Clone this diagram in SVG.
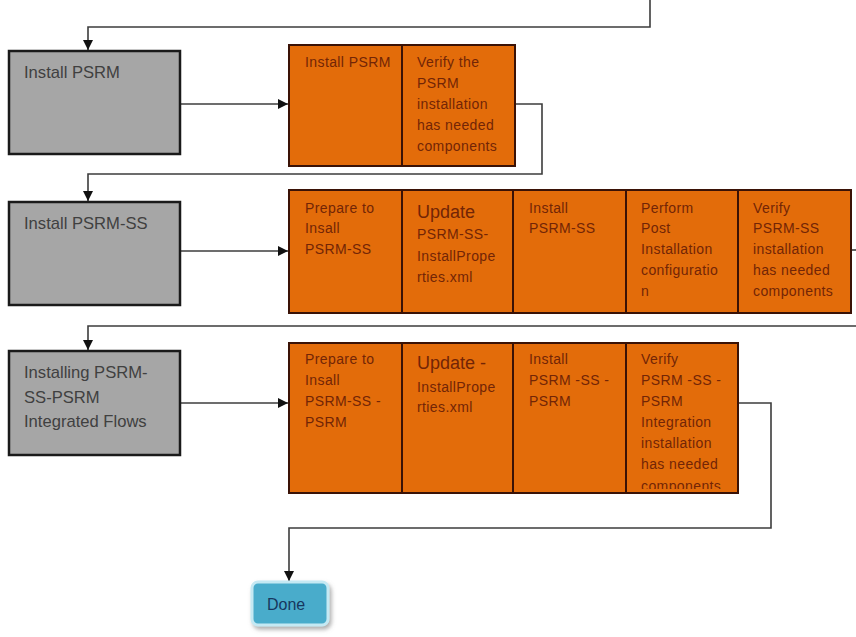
<svg xmlns="http://www.w3.org/2000/svg" width="856" height="637" viewBox="0 0 856 637">
<style>
.gray{fill:#a6a6a6;stroke:#1a1a1a;stroke-width:2.5}
.gt{font-family:"Liberation Sans",Arial,sans-serif;font-size:16.6px;fill:#404040}
.org{fill:#e36c0a;stroke:#3a1206;stroke-width:2}
.div{stroke:#3a1206;stroke-width:2}
.ot{font-family:"Liberation Sans",Arial,sans-serif;font-size:14px;fill:#722506;letter-spacing:0.4px}
.big{font-size:18px;letter-spacing:0}
.conn{fill:none;stroke:#3c3c3c;stroke-width:1.6}
.done{fill:#4aaccb;stroke:#c5e9f3;stroke-width:3}
.dt{font-family:"Liberation Sans",Arial,sans-serif;font-size:16px;fill:#17375e}
</style>
<defs>
<marker id="arr" viewBox="0 0 10 10" refX="10" refY="5" markerUnits="userSpaceOnUse" markerWidth="10" markerHeight="10" orient="auto">
<path d="M0,0 L10,5 L0,10 z" fill="#111"/>
</marker>
<clipPath id="clip3"><rect x="626" y="343" width="112" height="146"/></clipPath>
<filter id="sh" x="-20%" y="-20%" width="150%" height="160%"><feDropShadow dx="2" dy="3" stdDeviation="2" flood-color="#777" flood-opacity="0.6"/></filter>
</defs>

<g id="connectors">
<path class="conn" d="M650,0 V27 H88 V50" marker-end="url(#arr)"/>
<path class="conn" d="M180,104 H288" marker-end="url(#arr)"/>
<path class="conn" d="M515,104 H542 V174 H88 V201" marker-end="url(#arr)"/>
<path class="conn" d="M180,251 H288" marker-end="url(#arr)"/>
<path class="conn" d="M851,250 H856"/>
<path class="conn" d="M856,326 H88 V350" marker-end="url(#arr)"/>
<path class="conn" d="M180,403 H288" marker-end="url(#arr)"/>
<path class="conn" d="M738,403 H771 V528 H289 V581" marker-end="url(#arr)"/>
</g>

<g id="install-psrm">
<rect class="gray" x="9" y="51" width="171" height="103"/>
<text class="gt" x="24" y="78">Install PSRM</text>
</g>

<g id="psrm-steps">
<rect class="org" x="289" y="45" width="226" height="121"/>
<line class="div" x1="402" y1="45" x2="402" y2="166"/>
<text class="ot" x="305" y="67">Install PSRM</text>
<text class="ot" x="417" y="67">Verify the</text>
<text class="ot" x="417" y="88">PSRM</text>
<text class="ot" x="417" y="109">installation</text>
<text class="ot" x="417" y="130">has needed</text>
<text class="ot" x="417" y="151">components</text>
</g>

<g id="install-psrm-ss">
<rect class="gray" x="9" y="202" width="171" height="103"/>
<text class="gt" x="24" y="229">Install PSRM-SS</text>
</g>

<g id="psrm-ss-steps">
<rect class="org" x="289" y="190" width="562" height="123"/>
<line class="div" x1="402" y1="190" x2="402" y2="313"/>
<line class="div" x1="513" y1="190" x2="513" y2="313"/>
<line class="div" x1="626" y1="190" x2="626" y2="313"/>
<line class="div" x1="738" y1="190" x2="738" y2="313"/>
<text class="ot" x="305" y="213">Prepare to</text>
<text class="ot" x="305" y="233">Insall</text>
<text class="ot" x="305" y="254">PSRM-SS</text>
<text class="ot big" x="417" y="218">Update</text>
<text class="ot" x="417" y="239">PSRM-SS-</text>
<text class="ot" x="417" y="261">InstallPrope</text>
<text class="ot" x="417" y="282">rties.xml</text>
<text class="ot" x="529" y="213">Install</text>
<text class="ot" x="529" y="233">PSRM-SS</text>
<text class="ot" x="641" y="213">Perform</text>
<text class="ot" x="641" y="233">Post</text>
<text class="ot" x="641" y="254">Installation</text>
<text class="ot" x="641" y="275">configuratio</text>
<text class="ot" x="641" y="296">n</text>
<text class="ot" x="753" y="213">Verify</text>
<text class="ot" x="753" y="233">PSRM-SS</text>
<text class="ot" x="753" y="254">installation</text>
<text class="ot" x="753" y="275">has needed</text>
<text class="ot" x="753" y="296">components</text>
</g>

<g id="installing-integrated">
<rect class="gray" x="9" y="351" width="171" height="104"/>
<text class="gt" x="24" y="378">Installing PSRM-</text>
<text class="gt" x="24" y="403">SS-PSRM</text>
<text class="gt" x="24" y="427">Integrated Flows</text>
</g>

<g id="integrated-steps">
<rect class="org" x="289" y="343" width="449" height="150"/>
<line class="div" x1="402" y1="343" x2="402" y2="493"/>
<line class="div" x1="513" y1="343" x2="513" y2="493"/>
<line class="div" x1="626" y1="343" x2="626" y2="493"/>
<text class="ot" x="305" y="364">Prepare to</text>
<text class="ot" x="305" y="385">Insall</text>
<text class="ot" x="305" y="406">PSRM-SS -</text>
<text class="ot" x="305" y="427">PSRM</text>
<text class="ot big" x="417" y="369">Update -</text>
<text class="ot" x="417" y="392">InstallPrope</text>
<text class="ot" x="417" y="412">rties.xml</text>
<text class="ot" x="529" y="364">Install</text>
<text class="ot" x="529" y="385">PSRM -SS -</text>
<text class="ot" x="529" y="406">PSRM</text>
<g clip-path="url(#clip3)">
<text class="ot" x="641" y="364">Verify</text>
<text class="ot" x="641" y="385">PSRM -SS -</text>
<text class="ot" x="641" y="406">PSRM</text>
<text class="ot" x="641" y="427">Integration</text>
<text class="ot" x="641" y="448">installation</text>
<text class="ot" x="641" y="469">has needed</text>
<text class="ot" x="641" y="491">components</text>
</g>
</g>

<g id="done">
<rect class="done" x="252" y="582" width="76" height="43" rx="6" filter="url(#sh)"/>
<text class="dt" x="267" y="610">Done</text>
</g>
</svg>
